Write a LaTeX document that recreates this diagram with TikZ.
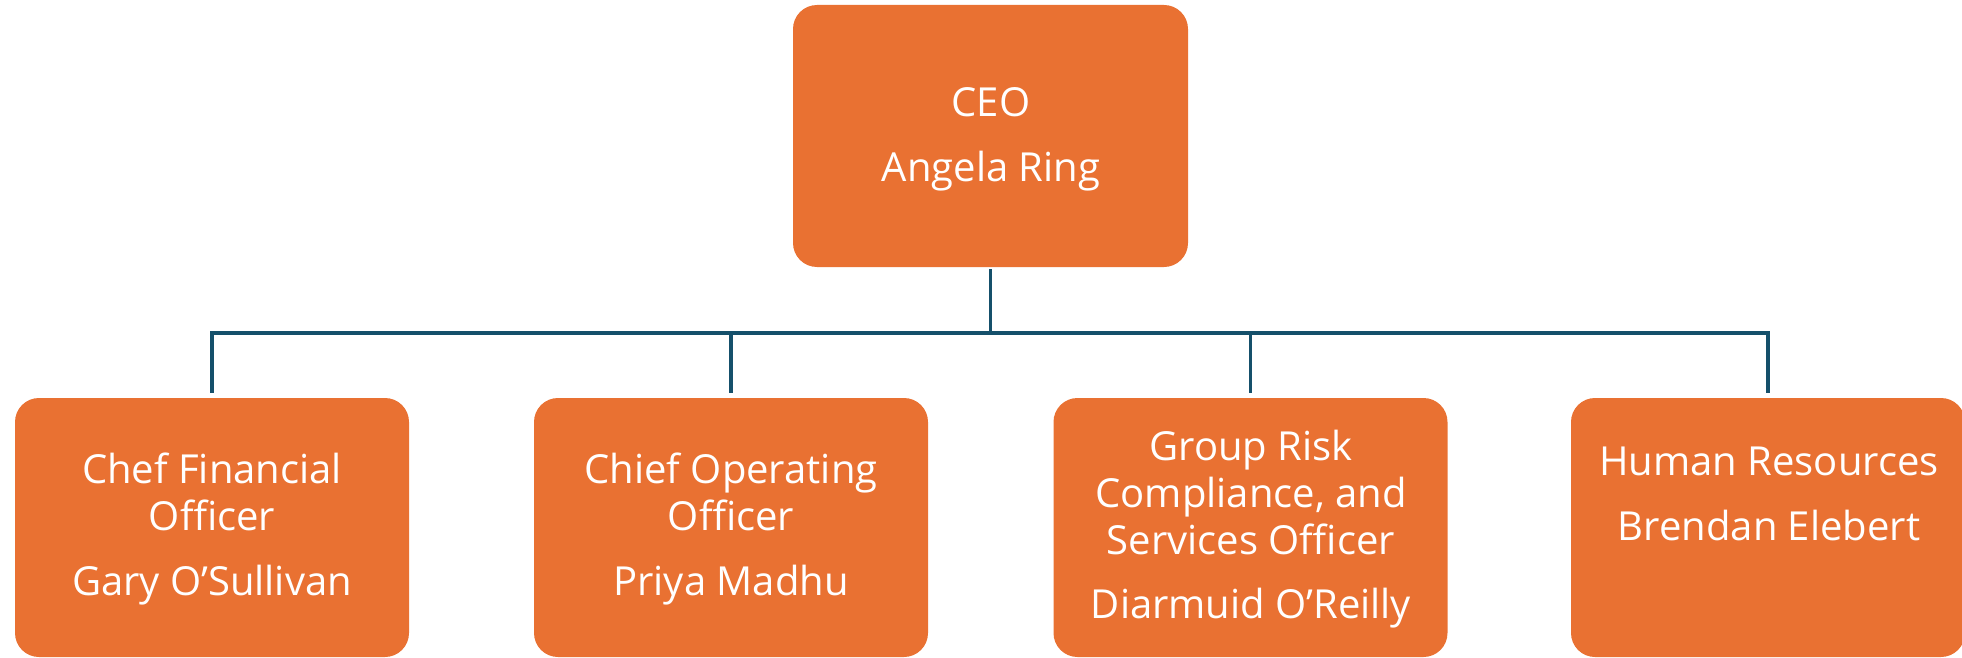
\documentclass[tikz,border=0pt]{standalone}
\usepackage{fontspec}
\setmainfont{Open Sans}
\definecolor{boxorange}{HTML}{E97132}
\definecolor{linkblue}{HTML}{15506B}
\tikzset{
  orgbox/.style={fill=boxorange, draw=none, rounded corners=24pt, minimum width=394pt, minimum height=259pt, inner sep=0pt},
  orgtext/.style={text=white, align=center, font=\fontsize{40}{47}\selectfont, anchor=base, inner sep=0pt},
  link/.style={draw=linkblue, line width=3.5pt}
}
\begin{document}
\begin{tikzpicture}[x=1pt, y=-1pt]
\useasboundingbox (0,0) rectangle (1962,658);
\node[orgbox, minimum height=262pt, minimum width=395pt] (ceo) at (990.5,136) {};
\node[orgbox] (cfo) at (212,527.5) {};
\node[orgbox] (coo) at (731,527.5) {};
\node[orgbox] (risk) at (1250.5,527.5) {};
\node[orgbox, minimum width=394pt] (hr) at (1768,527.5) {};
\node[orgtext] (ceot) at (991,182) {CEO\\[19pt]Angela Ring};
\node[orgtext] (cfot) at (212,595) {Chef Financial\\Officer\\[18pt]Gary O’Sullivan};
\node[orgtext] (coot) at (731,595) {Chief Operating\\Officer\\[18pt]Priya Madhu};
\node[orgtext] (riskt) at (1251,618) {Group Risk\\Compliance, and\\Services Officer\\[17pt]Diarmuid O’Reilly};
\node[orgtext] (hrt) at (1769,540) {Human Resources\\[18pt]Brendan Elebert};
\draw[link] ([yshift=-2pt]ceo.south) -- ++(0,64) -| ([yshift=5pt]cfo.north);
\draw[link] ([yshift=-2pt]ceo.south) -- ++(0,63.5) -| ([yshift=5pt]coo.north);
\draw[link] ([yshift=-2pt]ceo.south) -- ++(0,64.5) -| ([yshift=5pt]risk.north);
\draw[link] ([yshift=-2pt]ceo.south) -- ++(0,64) -| ([yshift=5pt]hr.north);
\end{tikzpicture}
\end{document}
